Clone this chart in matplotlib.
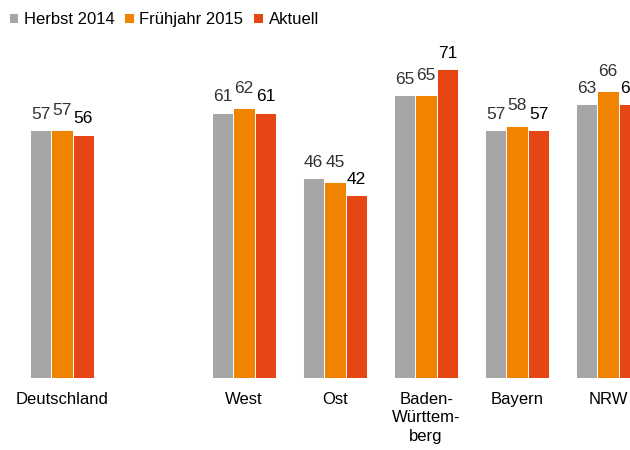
import matplotlib.pyplot as plt
import numpy as np

# Daten
kategorien = ["Deutschland", "West", "Ost", "Baden-\nWürttem-\nberg", "Bayern", "NRW"]
positionen = [0, 2, 3, 4, 5, 6]
herbst_2014 = [57, 61, 46, 65, 57, 63]
fruehjahr_2015 = [57, 62, 45, 65, 58, 66]
aktuell = [56, 61, 42, 71, 57, 63]

serien = ["Herbst 2014", "Frühjahr 2015", "Aktuell"]
farben = ["#A6A6A6", "#F08300", "#E64614"]

plt.rcParams['font.family'] = ['Liberation Sans', 'DejaVu Sans']

fig = plt.figure(figsize=(6.3, 4.5), dpi=100)
ax = fig.add_axes([0, 0.16, 1, 0.773])

x = np.array(positionen, dtype=float)
breite = 0.235
handles = []
for i, (werte, farbe, name) in enumerate(zip([herbst_2014, fruehjahr_2015, aktuell], farben, serien)):
    bars = ax.bar(x + (i - 1) * breite, werte, width=breite, color=farbe,
                  edgecolor="white", linewidth=0.7, label=name)
    handles.append(bars)
    # Werte über den Balken
    for xb, w in zip(x + (i - 1) * breite, werte):
        ax.annotate(str(w), (xb, w), xytext=(0, 9 if i == 1 else 6),
                    textcoords="offset points", ha="center", va="bottom",
                    fontsize=12.5, color="black" if i == 2 else "#333333",
                    clip_on=False)

ax.set_xlim(-0.68, 6.24)
ax.set_ylim(0, 80)
ax.set_xticks(x)
ax.set_xticklabels(kategorien, fontsize=12, color="black", linespacing=1.3)
ax.tick_params(axis="x", length=0, pad=10)
ax.set_yticks([])
for s in ax.spines.values():
    s.set_visible(False)

fig.legend(handles=handles, labels=serien, loc="upper left",
           bbox_to_anchor=(-0.002, 0.995), ncol=3, frameon=False, fontsize=12,
           handlelength=0.55, handleheight=0.55, handletextpad=0.35,
           columnspacing=0.6, borderaxespad=0.2)

fig.savefig("out.png", dpi=100)
